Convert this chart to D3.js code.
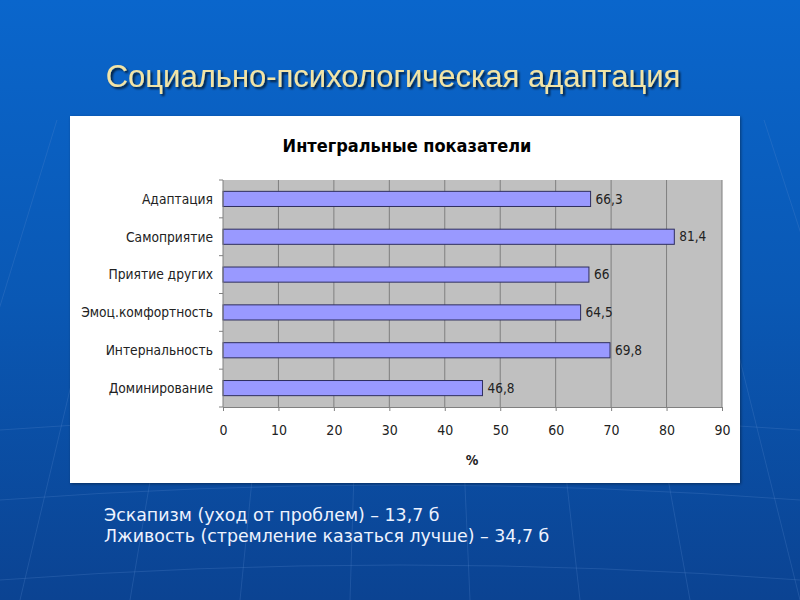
<!DOCTYPE html>
<html><head><meta charset="utf-8">
<script src="https://cdn.jsdelivr.net/npm/d3@7"></script>
<style>body{margin:0;padding:0;overflow:hidden}svg{display:block}</style>
</head><body>
<script>
const slideTitle = "Социально-психологическая адаптация";
const chartTitle = "Интегральные показатели";
const categories = ["Адаптация","Самоприятие","Приятие других","Эмоц.комфортность","Интернальность","Доминирование"];
const values = [66.3, 81.4, 66, 64.5, 69.8, 46.8];
const valueLabels = ["66,3","81,4","66","64,5","69,8","46,8"];
const xTicks = [0,10,20,30,40,50,60,70,80,90];
const xAxisTitle = "%";
const notes = ["Эскапизм (уход от проблем) – 13,7 б","Лживость (стремление казаться лучше) – 34,7 б"];

const W=800,H=600;
const svg=d3.select("body").append("svg").attr("width",W).attr("height",H);
const defs=svg.append("defs");
const bg=defs.append("linearGradient").attr("id","bg").attr("x1",0).attr("y1",0).attr("x2",0).attr("y2",1);
bg.append("stop").attr("offset","0").attr("stop-color","#0a66cc");
bg.append("stop").attr("offset","0.5").attr("stop-color","#0a58b4");
bg.append("stop").attr("offset","1").attr("stop-color","#0b4392");
svg.append("rect").attr("width",W).attr("height",H).attr("fill","url(#bg)");
// faint globe lines
const gl=svg.append("g").attr("stroke","#5a8ad0").attr("stroke-opacity",0.25).attr("fill","none").attr("stroke-width",1);
[-320,-200,-90,20,130,240,350,470,580,690,800,920,1040,1160].forEach(x0=>{
  const xb = 400 + (x0-400)*0.7;
  gl.append("path").attr("d",`M${x0},${600} Q${(x0+xb)/2},${360} ${xb},${120}`);
});
[430,500,580].forEach(y0=>{
  gl.append("path").attr("d",`M0,${y0} Q400,${y0-30} 800,${y0}`);
});

const sh=defs.append("filter").attr("id","ts").attr("x","-5%").attr("y","-20%").attr("width","110%").attr("height","150%");
sh.append("feDropShadow").attr("dx",2).attr("dy",2).attr("stdDeviation",1.2).attr("flood-color","#000").attr("flood-opacity",0.7);

svg.append("text").attr("x",393).attr("y",87).attr("text-anchor","middle")
  .attr("font-family","Liberation Sans, Arial, sans-serif").attr("font-size",31)
  .attr("fill","#f2e4a6").attr("filter","url(#ts)").text(slideTitle);

// panel
const ps=defs.append("filter").attr("id","ps").attr("x","-5%").attr("y","-5%").attr("width","110%").attr("height","110%");
ps.append("feDropShadow").attr("dx",1).attr("dy",1).attr("stdDeviation",1.5).attr("flood-color","#000").attr("flood-opacity",0.4);
svg.append("rect").attr("x",70).attr("y",116).attr("width",670).attr("height",367).attr("fill","#fff").attr("filter","url(#ps)");

svg.append("text").attr("x",407).attr("y",152).attr("text-anchor","middle")
  .attr("font-family","DejaVu Sans Condensed, DejaVu Sans, sans-serif").attr("font-stretch","condensed")
  .attr("font-weight","bold").attr("font-size",18).attr("fill","#000").text(chartTitle);

const m={l:223,r:722,t:180,b:407};
const x=d3.scaleLinear().domain([0,90]).range([m.l,m.r]);
const y=d3.scaleBand().domain(categories).range([m.t,m.b]).paddingInner(0.6).paddingOuter(0.3);
const yb=d3.scaleBand().domain(categories).range([m.t,m.b]);

const g=svg.append("g");
g.append("rect").attr("x",m.l).attr("y",m.t).attr("width",m.r-m.l).attr("height",m.b-m.t).attr("fill","#c0c0c0");
g.selectAll("line.grid").data(xTicks.slice(1)).join("line").attr("class","grid")
  .attr("x1",d=>x(d)).attr("x2",d=>x(d)).attr("y1",m.t).attr("y2",m.b).attr("stroke","#7f7f7f").attr("stroke-width",1);

g.selectAll("rect.bar").data(values).join("rect").attr("class","bar")
  .attr("x",x(0)).attr("y",(d,i)=>y(categories[i])).attr("width",d=>x(d)-x(0)).attr("height",y.bandwidth())
  .attr("fill","#9999ff").attr("stroke","#2e2e5e").attr("stroke-width",1);

const font="DejaVu Sans Condensed, DejaVu Sans, sans-serif";
g.selectAll("text.vl").data(values).join("text").attr("class","vl")
  .attr("x",d=>x(d)+5).attr("y",(d,i)=>y(categories[i])+y.bandwidth()/2).attr("dy","0.35em")
  .attr("font-family",font).attr("font-stretch","condensed").attr("font-size",13.5).attr("fill","#222")
  .text((d,i)=>valueLabels[i]);

// y axis
const ya=g.append("g").attr("transform",`translate(${m.l},0)`);
ya.append("line").attr("x1",0).attr("x2",0).attr("y1",m.t).attr("y2",m.b).attr("stroke","#808080");
const bounds=categories.map(c=>yb(c)).concat([m.b]);
ya.selectAll("line.t").data(bounds).join("line").attr("class","t").attr("x1",-4).attr("x2",0)
  .attr("y1",d=>d).attr("y2",d=>d).attr("stroke","#808080");
ya.selectAll("text").data(categories).join("text").attr("x",-10).attr("y",d=>y(d)+y.bandwidth()/2).attr("dy","0.35em")
  .attr("text-anchor","end").attr("font-family",font).attr("font-stretch","condensed").attr("font-size",13.7).attr("fill","#222").text(d=>d);

// x axis
const xa=g.append("g").attr("transform",`translate(0,${m.b})`)
  .call(d3.axisBottom(x).tickValues(xTicks).tickSize(4).tickPadding(14).tickFormat(d3.format("d")));
xa.select(".domain").attr("stroke","#808080");
xa.selectAll(".tick line").attr("stroke","#808080");
xa.selectAll(".tick text").attr("font-family",font).attr("font-stretch","condensed").attr("font-size",14).attr("fill","#222");
svg.append("text").attr("x",472).attr("y",465).attr("text-anchor","middle").attr("font-family",font)
  .attr("font-weight","bold").attr("font-size",14).attr("fill","#222").text(xAxisTitle);

svg.selectAll("text.note").data(notes).join("text").attr("class","note")
  .attr("x",104).attr("y",(d,i)=>521+i*21).attr("font-family","DejaVu Sans, Verdana, sans-serif")
  .attr("font-size",17.4).attr("fill","#eef3ff").text(d=>d);
</script>
</body></html>
